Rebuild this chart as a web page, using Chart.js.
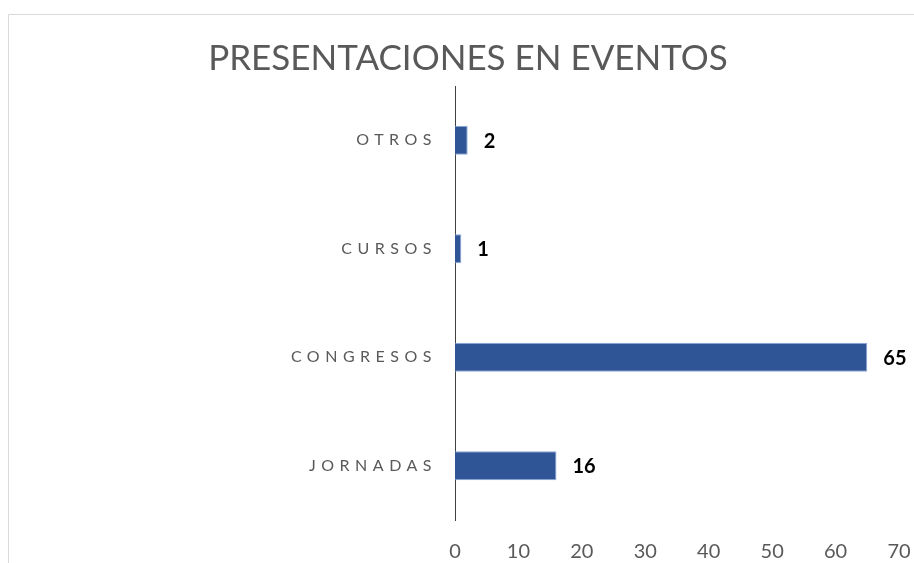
<!DOCTYPE html>
<html>
<head>
<meta charset="utf-8">
<script src="https://cdn.jsdelivr.net/npm/chart.js@4/dist/chart.umd.min.js"></script>
<style>
  html, body { margin: 0; padding: 0; background: #ffffff; }
  #wrap { position: relative; width: 914px; height: 563px; }
</style>
</head>
<body>
<div id="wrap"><canvas id="c" width="914" height="563"></canvas></div>
<script>
// ---- data ----
const titleText = 'PRESENTACIONES EN EVENTOS';
const categories = ['OTROS', 'CURSOS', 'CONGRESOS', 'JORNADAS'];
const values = [2, 1, 65, 16];
const xTicks = [0, 10, 20, 30, 40, 50, 60, 70];

const GREY = '#595959';

const framePlugin = {
  id: 'frame',
  beforeDraw(chart) {
    const ctx = chart.ctx;
    ctx.save();
    ctx.fillStyle = '#ffffff';
    ctx.fillRect(0, 0, chart.width, chart.height);
    ctx.strokeStyle = '#d9d9d9';
    ctx.lineWidth = 1;
    ctx.beginPath();
    ctx.moveTo(8.5, chart.height + 5);
    ctx.lineTo(8.5, 14.5);
    ctx.lineTo(chart.width + 5, 14.5);
    ctx.stroke();
    ctx.restore();
  },
  afterDatasetsDraw(chart) {
    const ctx = chart.ctx;
    const meta = chart.getDatasetMeta(0);
    ctx.save();
    ctx.letterSpacing = '0px';
    ctx.font = 'bold 20px Lato';
    ctx.fillStyle = '#000000';
    ctx.textAlign = 'left';
    ctx.textBaseline = 'middle';
    meta.data.forEach((bar, i) => {
      ctx.fillText(String(values[i]), bar.x + 16, bar.y + 1);
    });
    ctx.restore();
    // y tick labels (z=1) are drawn after this point: give them letter spacing
    ctx.letterSpacing = '5.5px';
  },
  afterDraw(chart) {
    chart.ctx.letterSpacing = '0px';
  }
};

new Chart(document.getElementById('c'), {
  type: 'bar',
  data: {
    labels: categories,
    datasets: [{
      data: values,
      backgroundColor: '#2F5597',
      borderColor: '#8FAADC',
      borderWidth: 1,
      categoryPercentage: 1,
      barPercentage: 0.265
    }]
  },
  options: {
    indexAxis: 'y',
    responsive: false,
    animation: false,
    layout: { padding: { left: 37, right: 15, top: 14, bottom: 0 } },
    plugins: {
      legend: { display: false },
      tooltip: { enabled: false },
      title: {
        display: true,
        text: titleText,
        color: GREY,
        font: { family: 'Lato', size: 35, weight: '400', lineHeight: 1.2 },
        padding: { top: 24, bottom: 6 }
      }
    },
    scales: {
      x: {
        min: 0,
        max: 70,
        afterBuildTicks(scale) { scale.ticks = xTicks.map(v => ({ value: v })); },
        afterFit(scale) { scale.height = 43; scale.paddingRight = 0; scale.paddingLeft = 0; },
        grid: { display: false, drawTicks: false },
        border: { display: false },
        ticks: {
          color: GREY,
          padding: 19.5,
          font: { family: 'Lato', size: 20 }
        }
      },
      y: {
        grid: { display: false, drawTicks: false },
        border: { display: true, color: '#404040', width: 1 },
        afterFit(scale) { scale.width = 455 - 37; },
        ticks: {
          z: 1,
          color: GREY,
          padding: 18,
          font: { family: 'Lato', size: 16 }
        }
      }
    }
  },
  plugins: [framePlugin]
});
</script>
</body>
</html>
